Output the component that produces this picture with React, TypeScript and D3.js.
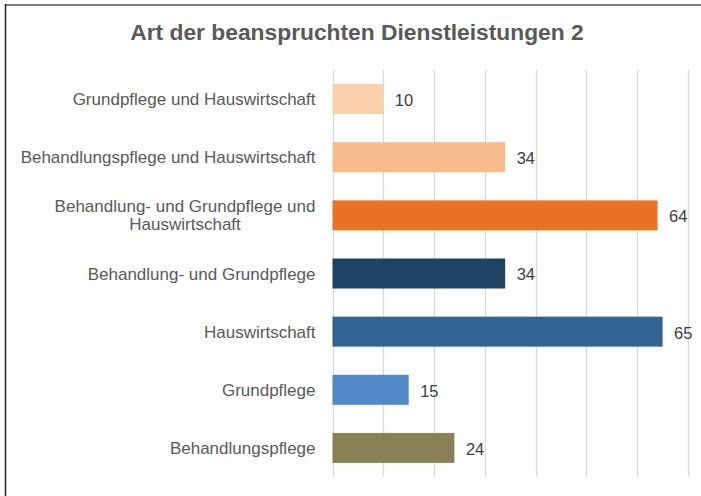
import React, { useEffect, useRef } from "react";
import * as d3 from "d3";

const title = "Art der beanspruchten Dienstleistungen 2";
const categories = [
  ["Grundpflege und Hauswirtschaft"],
  ["Behandlungspflege und Hauswirtschaft"],
  ["Behandlung- und Grundpflege und", "Hauswirtschaft"],
  ["Behandlung- und Grundpflege"],
  ["Hauswirtschaft"],
  ["Grundpflege"],
  ["Behandlungspflege"]
];
const values = [10, 34, 64, 34, 65, 15, 24];
const colors = ["#fbd0ad", "#f9bb8b", "#e87325", "#1d4264", "#336594", "#4f89c8", "#878155"];
const xTicks = [0, 10, 20, 30, 40, 50, 60, 70];

const W = 701;
const H = 496;
const FONT = "'Liberation Sans', Arial, Helvetica, sans-serif";

export default function App() {
  const ref = useRef<SVGSVGElement>(null);

  useEffect(() => {
    const svg = d3.select(ref.current);
    svg.selectAll("*").remove();

    const keys = categories.map(c => c.join(" "));
    const x = d3.scaleLinear().domain([0, 70]).range([332.5, 688]);
    const y = d3
      .scaleBand()
      .domain(keys)
      .range([70, 477])
      .paddingInner(0.484)
      .paddingOuter(0.242);

    // frame
    svg.append("rect").attr("width", W).attr("height", H).attr("fill", "#fff");
    svg
      .append("line")
      .attr("x1", 5).attr("x2", W).attr("y1", 5).attr("y2", 5)
      .attr("stroke", "#808080").attr("stroke-width", 2);
    svg
      .append("line")
      .attr("x1", 5.5).attr("x2", 5.5).attr("y1", 4).attr("y2", H)
      .attr("stroke", "#222").attr("stroke-width", 1.5);

    svg
      .append("text")
      .attr("x", 357)
      .attr("y", 40)
      .attr("text-anchor", "middle")
      .attr("font-family", FONT)
      .attr("font-size", 22.8)
      .attr("font-weight", "bold")
      .attr("fill", "#595959")
      .text(title);

    // gridlines
    svg
      .append("g")
      .selectAll("line")
      .data(xTicks)
      .join("line")
      .attr("x1", d => Math.round(x(d)) + 0.5)
      .attr("x2", d => Math.round(x(d)) + 0.5)
      .attr("y1", 70)
      .attr("y2", 477)
      .attr("stroke", "#d9d9d9")
      .attr("stroke-width", 1.3);

    // bars
    svg
      .append("g")
      .selectAll("rect")
      .data(values)
      .join("rect")
      .attr("x", x(0))
      .attr("y", (d, i) => y(keys[i])!)
      .attr("width", d => x(d) - x(0))
      .attr("height", y.bandwidth())
      .attr("fill", (d, i) => colors[i]);

    // value labels
    svg
      .append("g")
      .selectAll("text")
      .data(values)
      .join("text")
      .attr("x", d => x(d) + 11.5)
      .attr("y", (d, i) => y(keys[i])! + y.bandwidth() / 2)
      .attr("dy", "0.42em")
      .attr("font-family", FONT)
      .attr("font-size", 16.5)
      .attr("fill", "#404040")
      .text(d => d);

    // category labels, multi-line blocks centered, right-aligned as a block
    const lineH = 18;
    const labelRight = 315.5;
    categories.forEach((lines, i) => {
      const cy = y(keys[i])! + y.bandwidth() / 2;
      const t = svg
        .append("text")
        .attr("font-family", FONT)
        .attr("font-size", 17)
        .attr("fill", "#595959")
        .attr("text-anchor", "middle");
      const spans = lines.map((l, j) =>
        t
          .append("tspan")
          .attr("y", cy + (j - (lines.length - 1) / 2) * lineH)
          .attr("dy", "0.36em")
          .text(l)
      );
      const widths = spans.map(s => (s.node() as SVGTSpanElement).getComputedTextLength());
      const cx = labelRight - d3.max(widths)! / 2;
      spans.forEach(s => s.attr("x", cx));
    });
  }, []);

  return (
    <svg
      ref={ref}
      width={W}
      height={H}
      style={{ position: "absolute", left: 0, top: 0, display: "block" }}
    />
  );
}
